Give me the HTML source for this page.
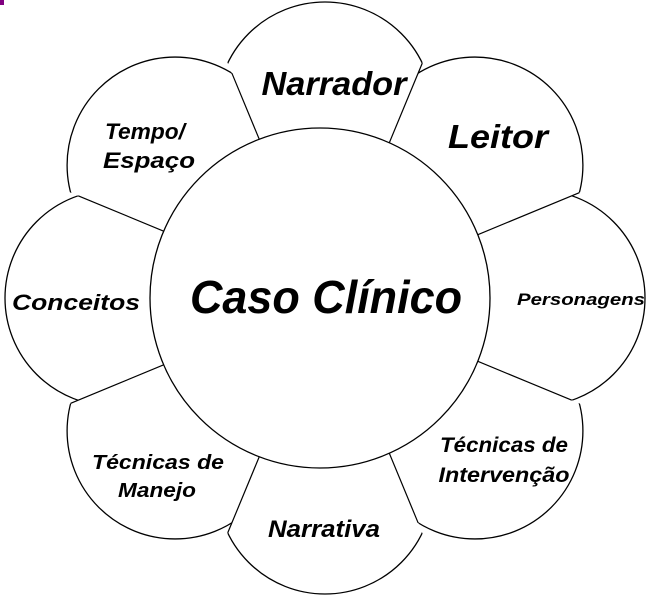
<!DOCTYPE html>
<html><head><meta charset="utf-8">
<style>
html,body{margin:0;padding:0;background:#fff;}
svg{display:block;}
text{font-family:"Liberation Sans",sans-serif;font-weight:bold;font-style:italic;fill:#000;text-anchor:middle;}
</style></head>
<body>
<svg id="s" width="655" height="600" viewBox="0 0 655 600" xmlns="http://www.w3.org/2000/svg">
<rect x="0" y="0" width="4" height="5" fill="#800080"/>
<g id="petals"></g>
<circle cx="320" cy="298" r="170" fill="#fff" stroke="#000" stroke-width="1.3"/>
<text x="326" y="313" font-size="46" textLength="272" lengthAdjust="spacingAndGlyphs">Caso Clínico</text>
<text x="334" y="95" font-size="33" textLength="145" lengthAdjust="spacingAndGlyphs">Narrador</text>
<text x="498" y="148" font-size="33" textLength="100" lengthAdjust="spacingAndGlyphs">Leitor</text>
<text x="145" y="139" font-size="22" textLength="80" lengthAdjust="spacingAndGlyphs">Tempo/</text>
<text x="149" y="168" font-size="22" textLength="92" lengthAdjust="spacingAndGlyphs">Espaço</text>
<text x="76" y="310" font-size="22" textLength="128" lengthAdjust="spacingAndGlyphs">Conceitos</text>
<text x="581" y="305" font-size="17" textLength="128" lengthAdjust="spacingAndGlyphs">Personagens</text>
<text x="158" y="469" font-size="20" textLength="132" lengthAdjust="spacingAndGlyphs">Técnicas de</text>
<text x="157" y="497" font-size="20" textLength="78" lengthAdjust="spacingAndGlyphs">Manejo</text>
<text x="324" y="537" font-size="24" textLength="112" lengthAdjust="spacingAndGlyphs">Narrativa</text>
<text x="504" y="452" font-size="21" textLength="128" lengthAdjust="spacingAndGlyphs">Técnicas de</text>
<text x="504" y="482" font-size="21" textLength="131" lengthAdjust="spacingAndGlyphs">Intervenção</text>
</svg>
<script>
(function(){
var NS="http://www.w3.org/2000/svg";
var g=document.getElementById('petals');
var cx=325,cy=298,dx=212,dy=188,r=108;
var angs=[-90,-45,0,45,90,135,180,-135];
var C=angs.map(function(a){var t=a*Math.PI/180;return [cx+dx*Math.cos(t),cy+dy*Math.sin(t)];});
var defs=document.createElementNS(NS,'defs');g.appendChild(defs);
angs.forEach(function(a,i){
  var a1=(a-22.5)*Math.PI/180,a2=(a+22.5)*Math.PI/180,R=1000;
  var cp=document.createElementNS(NS,'clipPath');cp.setAttribute('id','c'+i);
  var pg=document.createElementNS(NS,'polygon');
  pg.setAttribute('points',cx+','+cy+' '+(cx+R*Math.cos(a1))+','+(cy+R*Math.sin(a1))+' '+(cx+R*Math.cos(a2))+','+(cy+R*Math.sin(a2)));
  cp.appendChild(pg);defs.appendChild(cp);
  var c=document.createElementNS(NS,'circle');
  c.setAttribute('cx',C[i][0]);c.setAttribute('cy',C[i][1]);c.setAttribute('r',r);
  c.setAttribute('fill','#fff');c.setAttribute('stroke','#000');c.setAttribute('stroke-width','1.3');
  c.setAttribute('clip-path','url(#c'+i+')');g.appendChild(c);
});
angs.forEach(function(a,i){
  var phi=(a+22.5)*Math.PI/180,ux=Math.cos(phi),uy=Math.sin(phi);
  var P=C[i],ox=cx-P[0],oy=cy-P[1];
  var b=ox*ux+oy*uy,cc=ox*ox+oy*oy-r*r,disc=b*b-cc;
  if(disc<0)return;
  var t=-b+Math.sqrt(disc);
  var l=document.createElementNS(NS,'line');
  l.setAttribute('x1',cx+140*ux);l.setAttribute('y1',cy+140*uy);
  l.setAttribute('x2',cx+t*ux);l.setAttribute('y2',cy+t*uy);
  l.setAttribute('stroke','#000');l.setAttribute('stroke-width','1.2');
  g.appendChild(l);
});
})();
</script>
</body></html>
